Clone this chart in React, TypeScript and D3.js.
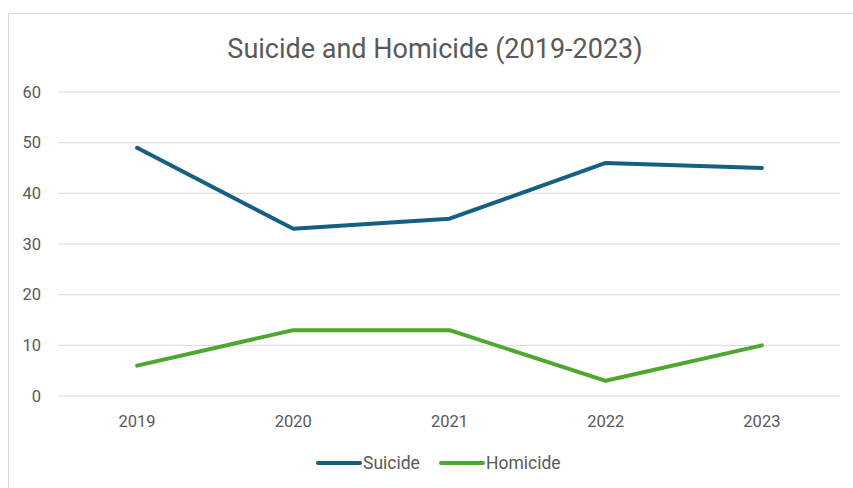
import React from "react";
import * as d3 from "d3";

const years = ["2019", "2020", "2021", "2022", "2023"];
const suicide = [49, 33, 35, 46, 45];
const homicide = [6, 13, 13, 3, 10];
const yTicks = [0, 10, 20, 30, 40, 50, 60];

const W = 853;
const H = 488;
const font = "Roboto, 'Open Sans', sans-serif";
const textColor = "#595959";

export default function App() {
  const x = d3.scaleBand<string>().domain(years).range([59, 840]);
  const y = d3.scaleLinear().domain([0, 60]).range([396, 92]);
  const line = d3
    .line<number>()
    .x((_, i) => (x(years[i]) as number) + x.bandwidth() / 2)
    .y((d) => y(d));
  const series = [
    { name: "Suicide", values: suicide, color: "#156082" },
    { name: "Homicide", values: homicide, color: "#4ea72e" },
  ];
  return (
    <svg
      width={W}
      height={H}
      style={{ position: "absolute", left: 0, top: 0, background: "#fff" }}
    >
      <rect x={8.5} y={13.5} width={900} height={600} fill="#fff" stroke="#d9d9d9" strokeWidth={1} />
      <text
        x={435}
        y={58}
        textAnchor="middle"
        fontFamily={font}
        fontSize={27}
        fill={textColor}
      >
        Suicide and Homicide (2019-2023)
      </text>
      {yTicks.map((t) => (
        <g key={t}>
          <line x1={59} x2={840} y1={y(t)} y2={y(t)} stroke="#d9d9d9" strokeWidth={1} />
          <text
            x={41}
            y={y(t)}
            dy="0.35em"
            textAnchor="end"
            fontFamily={font}
            fontSize={16.5}
            fill={textColor}
          >
            {t}
          </text>
        </g>
      ))}
      {years.map((yr) => (
        <text
          key={yr}
          x={(x(yr) as number) + x.bandwidth() / 2}
          y={427}
          textAnchor="middle"
          fontFamily={font}
          fontSize={16.5}
          fill={textColor}
        >
          {yr}
        </text>
      ))}
      {series.map((s) => (
        <path
          key={s.name}
          d={line(s.values) || ""}
          fill="none"
          stroke={s.color}
          strokeWidth={4}
          strokeLinecap="round"
          strokeLinejoin="round"
        />
      ))}
      {series.map((s, i) => {
        const lx = i === 0 ? 318 : 441;
        return (
          <g key={s.name}>
            <line x1={lx} x2={lx + 42} y1={463} y2={463} stroke={s.color} strokeWidth={4} strokeLinecap="round" />
            <text x={lx + 45} y={463} dy="0.35em" fontFamily={font} fontSize={17.5} fill={textColor}>
              {s.name}
            </text>
          </g>
        );
      })}
    </svg>
  );
}
